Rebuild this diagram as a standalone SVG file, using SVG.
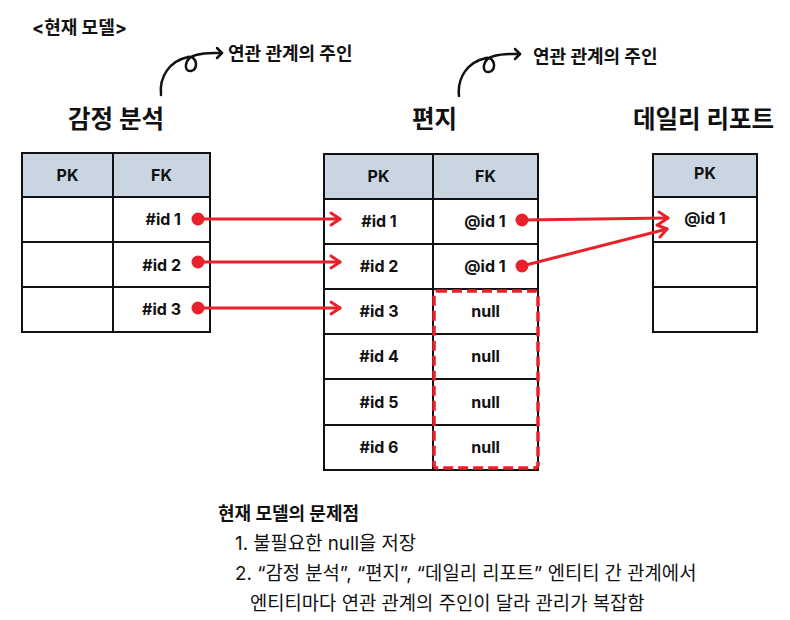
<svg xmlns="http://www.w3.org/2000/svg" width="790" height="620" viewBox="0 0 790 620">
<defs>
<style>
text{font-family:Inter,"Noto Sans CJK KR",sans-serif;fill:#111;}
.b{font-weight:700;}
.title{font-size:24.5px;font-weight:700;}
.note{font-size:18px;font-weight:700;}
.cell{font-size:16px;font-weight:700;text-anchor:middle;}
.cellr{font-size:16px;font-weight:700;text-anchor:end;}
.hd{fill:#c9d6e1;stroke:#111;stroke-width:2;}
.bx{fill:#fff;stroke:#111;stroke-width:2;}
.ln{stroke:#111;stroke-width:2;}
.red{stroke:#e8212b;stroke-width:3;fill:none;stroke-linecap:round;stroke-linejoin:round;}
.dot{fill:#e8212b;}
.curl{stroke:#111;stroke-width:2.5;fill:none;stroke-linecap:round;stroke-linejoin:round;}
.body{font-size:18.8px;}
</style>
<g id="curlShape">
<path class="curl" d="M161,95 C159,76 170,61 188,57 C197,55 199,70 191,71 C183,72 184,58 196,55 C206,52 214,53 222,53"/>
<path class="curl" d="M217,48 L222,53 L217,58"/>
</g>
</defs>

<text x="32" y="34" class="b" style="font-size:18px">&lt;현재 모델&gt;</text>

<g id="owner1">
<use href="#curlShape"/>
<text x="228" y="60" class="note">연관 관계의 주인</text>
</g>
<g id="owner2">
<use href="#curlShape" transform="translate(298,1)"/>
<text x="533" y="63" class="note">연관 관계의 주인</text>
</g>

<g id="emotion">
<text x="68" y="128" class="title">감정 분석</text>
<rect class="hd" x="22" y="153" width="188" height="44"/>
<rect class="bx" x="22" y="197" width="188" height="135"/>
<line class="ln" x1="113" y1="153" x2="113" y2="332"/>
<line class="ln" x1="22" y1="242" x2="210" y2="242"/>
<line class="ln" x1="22" y1="287" x2="210" y2="287"/>
<text x="67.5" y="181" class="cell">PK</text>
<text x="161.5" y="181" class="cell">FK</text>
<text x="181" y="225" class="cellr">#id 1</text>
<text x="181" y="271" class="cellr">#id 2</text>
<text x="181" y="315" class="cellr">#id 3</text>
</g>

<g id="letter">
<text x="412" y="128" class="title">편지</text>
<rect class="hd" x="324" y="154" width="214" height="45"/>
<rect class="bx" x="324" y="199" width="214" height="271"/>
<line class="ln" x1="433" y1="154" x2="433" y2="470"/>
<line class="ln" x1="324" y1="244" x2="538" y2="244"/>
<line class="ln" x1="324" y1="289" x2="538" y2="289"/>
<line class="ln" x1="324" y1="334" x2="538" y2="334"/>
<line class="ln" x1="324" y1="379" x2="538" y2="379"/>
<line class="ln" x1="324" y1="425" x2="538" y2="425"/>
<text x="378.5" y="182" class="cell">PK</text>
<text x="485.5" y="182" class="cell">FK</text>
<text x="379" y="227" class="cell">#id 1</text>
<text x="379" y="272" class="cell">#id 2</text>
<text x="379" y="317" class="cell">#id 3</text>
<text x="379" y="362" class="cell">#id 4</text>
<text x="379" y="408" class="cell">#id 5</text>
<text x="379" y="453" class="cell">#id 6</text>
<text x="485" y="227" class="cell">@id 1</text>
<text x="485" y="272" class="cell">@id 1</text>
<text x="485.5" y="317" class="cell">null</text>
<text x="485.5" y="362" class="cell">null</text>
<text x="485.5" y="408" class="cell">null</text>
<text x="485.5" y="453" class="cell">null</text>
<rect x="434" y="291" width="104" height="177" rx="3" style="fill:none;stroke:#e8212b;stroke-width:3.5;stroke-dasharray:10 5"/>
</g>

<g id="daily">
<text x="633" y="128" class="title">데일리 리포트</text>
<rect class="hd" x="653" y="154" width="104" height="43"/>
<rect class="bx" x="653" y="197" width="104" height="135"/>
<line class="ln" x1="653" y1="242" x2="757" y2="242"/>
<line class="ln" x1="653" y1="287" x2="757" y2="287"/>
<text x="705" y="179" class="cell">PK</text>
<text x="705" y="224" class="cell">@id 1</text>
</g>

<g id="connectors">
<circle class="dot" cx="198" cy="219" r="6.5"/>
<line class="red" x1="198" y1="219" x2="340" y2="219"/>
<path class="red" d="M331,213 L340,219 L331,225"/>
<circle class="dot" cx="198" cy="262" r="6.5"/>
<line class="red" x1="198" y1="262" x2="340" y2="262"/>
<path class="red" d="M331,256 L340,262 L331,268"/>
<circle class="dot" cx="198" cy="308" r="6.5"/>
<line class="red" x1="198" y1="308" x2="340" y2="308"/>
<path class="red" d="M331,302 L340,308 L331,314"/>
<circle class="dot" cx="522" cy="220" r="6.5"/>
<line class="red" x1="522" y1="220" x2="668" y2="218"/>
<path class="red" d="M659,212 L668,218 L659,224"/>
<circle class="dot" cx="522" cy="266" r="6.5"/>
<line class="red" x1="522" y1="266" x2="667" y2="229"/>
<path class="red" d="M657,225 L667,229 L660,237"/>
</g>

<g id="problems">
<text x="218" y="520" class="b" style="font-size:18px">현재 모델의 문제점</text>
<text x="235" y="550" class="body">1. 불필요한 null을 저장</text>
<text x="235" y="580" class="body">2. “감정 분석”, “편지”, “데일리 리포트” 엔티티 간 관계에서</text>
<text x="250" y="610" class="body">엔티티마다 연관 관계의 주인이 달라 관리가 복잡함</text>
</g>
</svg>
